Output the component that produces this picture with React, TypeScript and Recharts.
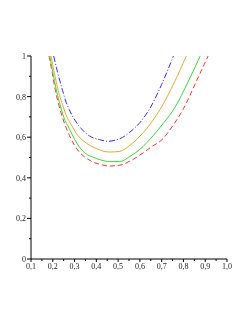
import React from "react";
import { LineChart, Line, XAxis, YAxis } from "recharts";

const xTicks = [0.1, 0.15, 0.2, 0.25, 0.3, 0.35, 0.4, 0.45, 0.5, 0.55, 0.6, 0.65, 0.7, 0.75, 0.8, 0.85, 0.9, 0.95, 1.0];
const xMajor = [0.1, 0.2, 0.3, 0.4, 0.5, 0.6, 0.7, 0.8, 0.9, 1.0];
const yTicks = [0, 0.1, 0.2, 0.3, 0.4, 0.5, 0.6, 0.7, 0.8, 0.9, 1.0];
const yMajor = [0, 0.2, 0.4, 0.6, 0.8, 1.0];

const redX = [0.183, 0.197, 0.212, 0.23, 0.25, 0.276, 0.3, 0.322, 0.35, 0.384, 0.42, 0.461, 0.507, 0.554, 0.6, 0.65, 0.708, 0.75, 0.8, 0.858, 0.913];
const redY = [1.0, 0.92, 0.83, 0.75, 0.68, 0.61, 0.56, 0.527, 0.5, 0.478, 0.465, 0.458, 0.462, 0.482, 0.512, 0.55, 0.595, 0.655, 0.74, 0.872, 1.0];

const greenX = [0.186, 0.2, 0.215, 0.23, 0.25, 0.276, 0.3, 0.322, 0.35, 0.384, 0.42, 0.461, 0.507, 0.554, 0.6, 0.662, 0.71, 0.76, 0.821, 0.877];
const greenY = [1.0, 0.92, 0.84, 0.773, 0.7, 0.642, 0.59, 0.552, 0.52, 0.502, 0.488, 0.48, 0.48, 0.505, 0.54, 0.609, 0.672, 0.745, 0.872, 1.0];

const orangeX = [0.192, 0.211, 0.23, 0.245, 0.261, 0.291, 0.307, 0.337, 0.37, 0.4, 0.43, 0.461, 0.507, 0.554, 0.6, 0.631, 0.7, 0.759, 0.813];
const orangeY = [1.0, 0.897, 0.81, 0.76, 0.71, 0.65, 0.62, 0.585, 0.56, 0.544, 0.532, 0.527, 0.53, 0.56, 0.605, 0.642, 0.75, 0.872, 1.0];

const blueX = [0.204, 0.222, 0.245, 0.261, 0.276, 0.307, 0.337, 0.37, 0.415, 0.45, 0.507, 0.554, 0.6, 0.645, 0.7, 0.754];
const blueY = [1.0, 0.92, 0.83, 0.773, 0.735, 0.675, 0.635, 0.605, 0.588, 0.58, 0.592, 0.625, 0.672, 0.74, 0.86, 1.0];

const toData = (xs: number[], ys: number[]) => xs.map((x, i) => ({ x, y: ys[i] }));
const red = toData(redX, redY);
const green = toData(greenX, greenY);
const orange = toData(orangeX, orangeY);
const blue = toData(blueX, blueY);

const isMajor = (v: number, list: number[]) => list.some((m) => Math.abs(m - v) < 1e-6);

const FONT = "'Liberation Serif', 'DejaVu Serif', serif";

const XTick = (props: any) => {
  const { x, y, payload } = props;
  const major = isMajor(payload.value, xMajor);
  return (
    <g>
      <line x1={x} y1={y} x2={x} y2={y + (major ? 3 : 2)} stroke="#000" strokeWidth={1} />
      {major && (
        <text x={x} y={y + 10} textAnchor="middle" fontSize={8} fontFamily={FONT} fill="#222" style={{ filter: "grayscale(100%)" }}>
          {payload.value.toFixed(1).replace(".", ",")}
        </text>
      )}
    </g>
  );
};

const YTick = (props: any) => {
  const { x, y, payload } = props;
  const major = isMajor(payload.value, yMajor);
  const v = payload.value;
  const label = Math.abs(v) < 1e-6 ? "0" : Math.abs(v - 1) < 1e-6 ? "1" : v.toFixed(1).replace(".", ",");
  return (
    <g>
      <line x1={x - (major ? 4 : 2)} y1={y} x2={x} y2={y} stroke="#000" strokeWidth={1} />
      {major && (
        <text x={x - 5} y={y + 3} textAnchor="end" fontSize={8} fontFamily={FONT} fill="#222" style={{ filter: "grayscale(100%)" }}>
          {label}
        </text>
      )}
    </g>
  );
};

export default function App() {
  return (
    <div style={{ position: "absolute", left: 0, top: 0, width: 249, height: 323, background: "#fff" }}>
      <LineChart width={249} height={323} margin={{ top: 56, right: 22, bottom: 0, left: 0 }}>
        <XAxis
          type="number"
          dataKey="x"
          domain={[0.1, 1.0]}
          ticks={xTicks}
          tick={<XTick />}
          tickLine={false}
          tickSize={0}
          tickMargin={0}
          height={64}
          stroke="#000"
          allowDataOverflow
          interval={0}
        />
        <YAxis
          type="number"
          dataKey="y"
          domain={[0, 1]}
          ticks={yTicks}
          tick={<YTick />}
          tickLine={false}
          tickSize={0}
          tickMargin={0}
          width={31}
          stroke="#000"
          allowDataOverflow
          interval={0}
        />
        <Line data={red} dataKey="y" type="monotone" stroke="#ff3030" strokeWidth={1} strokeDasharray="5 3" dot={false} isAnimationActive={false} />
        <Line data={green} dataKey="y" type="monotone" stroke="#3cd83c" strokeWidth={1} dot={false} isAnimationActive={false} />
        <Line data={orange} dataKey="y" type="monotone" stroke="#e8a838" strokeWidth={1} dot={false} isAnimationActive={false} />
        <Line data={blue} dataKey="y" type="monotone" stroke="#3030ff" strokeWidth={1} strokeDasharray="6 2 1 2" dot={false} isAnimationActive={false} />
      </LineChart>
    </div>
  );
}
